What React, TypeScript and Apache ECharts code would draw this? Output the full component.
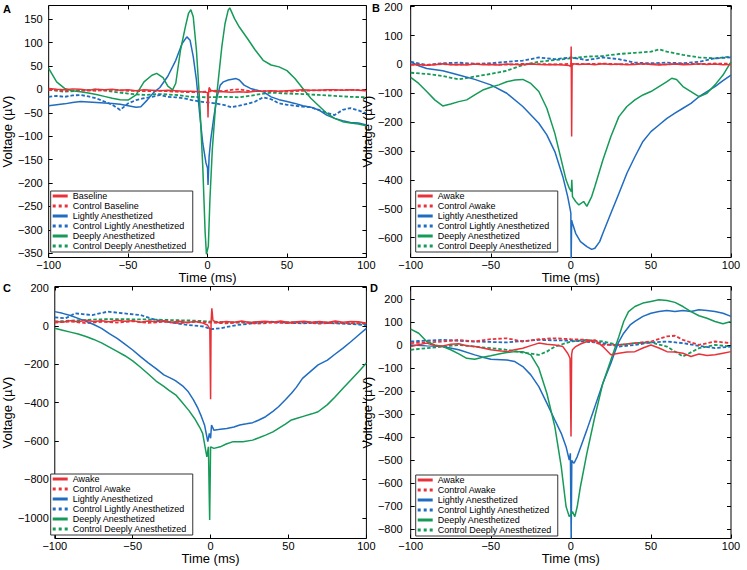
import React, { useEffect, useRef } from 'react';
import * as echarts from 'echarts';

type P = [number, number][];

const FONT = "'Liberation Sans', Arial, Helvetica, sans-serif";
const RED = '#e8323a';
const BLUE = '#1f6cc0';
const GREEN = '#159a57';

const timeTicks = [-100, -50, 0, 50, 100];
const yTicksA = [-350, -300, -250, -200, -150, -100, -50, 0, 50, 100, 150];
const yTicksB = [-600, -500, -400, -300, -200, -100, 0, 100, 200];
const yTicksC = [-1000, -800, -600, -400, -200, 0, 200];
const yTicksD = [-800, -700, -600, -500, -400, -300, -200, -100, 0, 100, 200];

const namesA = ['Baseline', 'Control Baseline', 'Lightly Anesthetized', 'Control Lightly Anesthetized', 'Deeply Anesthetized', 'Control Deeply Anesthetized'];
const namesBCD = ['Awake', 'Control Awake', 'Lightly Anesthetized', 'Control Lightly Anesthetized', 'Deeply Anesthetized', 'Control Deeply Anesthetized'];

// ---------- Panel A ----------
const A_base: P = [[-100,2],[-95,0],[-90,-1],[-85,1],[-80,0],[-75,-2],[-70,0],[-65,-1],[-60,0],[-55,-2],[-50,-1],[-45,-3],[-40,-1],[-35,-2],[-30,-3],[-25,-2],[-20,-3],[-15,-4],[-10,-4],[-5,-5],[-1,-6],[0,-7],[0.3,-60],[0.6,-8],[1,4],[2,-2],[5,-5],[10,-5],[15,-6],[20,-5],[25,-6],[30,-4],[35,-4],[40,-3],[45,-4],[50,-3],[55,-2],[60,-1],[65,-2],[70,-2],[75,-1],[80,-1],[85,-2],[90,-1],[95,-2],[100,-3]];
const A_ctrlBase: P = [[-100,-1],[-90,-3],[-80,-2],[-70,-3],[-60,-1],[-50,-3],[-40,-4],[-30,-3],[-20,-5],[-10,-6],[0,-5],[5,-3],[10,-4],[15,-1],[20,0],[25,-3],[30,-4],[40,-4],[50,-5],[60,-3],[70,-2],[80,-2],[90,-1],[100,-2]];
const A_light: P = [[-100,-35],[-95,-33],[-90,-31],[-85,-28],[-80,-26],[-75,-27],[-70,-28],[-65,-29],[-60,-30],[-55,-32],[-50,-35],[-45,-38],[-42,-37],[-38,-23],[-34,-7],[-30,4],[-25,28],[-20,62],[-16,98],[-13,112],[-11,105],[-9,70],[-7,20],[-5,-51],[-3,-115],[-1,-157],[0,-168],[0.3,-204],[1,-143],[2,-108],[4,-58],[6,-16],[8,9],[10,16],[13,20],[18,23],[20,20],[23,9],[27,2],[30,-1],[35,-5],[40,-16],[45,-22],[50,-26],[55,-30],[60,-35],[65,-38],[70,-44],[75,-55],[80,-62],[85,-67],[90,-71],[95,-72],[100,-76]];
const A_ctrlLight: P = [[-100,-16],[-95,-14],[-90,-16],[-85,-13],[-80,-12],[-75,-15],[-70,-19],[-65,-26],[-60,-33],[-55,-44],[-50,-30],[-45,-23],[-40,-19],[-35,-16],[-30,-12],[-25,-16],[-20,-17],[-15,-19],[-10,-23],[-5,-26],[0,-28],[5,-30],[10,-33],[15,-38],[20,-35],[25,-31],[30,-26],[35,-17],[40,-21],[45,-30],[50,-33],[55,-35],[60,-37],[65,-38],[70,-44],[75,-50],[80,-55],[85,-44],[90,-40],[95,-45],[100,-51]];
const A_deep: P = [[-100,45],[-95,16],[-90,2],[-85,-3],[-80,-5],[-75,-8],[-70,-11],[-65,-15],[-60,-19],[-55,-22],[-50,-23],[-45,-12],[-40,16],[-35,30],[-32,34],[-28,25],[-25,7],[-22,-1],[-20,13],[-17,84],[-14,133],[-12,162],[-10.5,170],[-9,155],[-7,84],[-5,-23],[-3,-165],[-1.5,-306],[-0.7,-352],[0.5,-335],[1.5,-235],[3,-129],[5,-37],[7,27],[9,91],[11,140],[13,169],[14,174],[17,151],[20,133],[25,109],[30,84],[35,62],[40,52],[45,48],[50,40],[55,23],[60,2],[65,-19],[70,-35],[75,-51],[80,-62],[85,-69],[90,-72],[95,-74],[100,-78]];
const A_ctrlDeep: P = [[-100,-1],[-90,-5],[-80,-3],[-70,0],[-60,-5],[-50,-9],[-40,-12],[-30,-10],[-20,-12],[-10,-16],[0,-17],[10,-16],[20,-17],[30,-12],[40,-7],[50,-9],[60,-10],[70,-12],[80,-14],[90,-16],[100,-17]];

// ---------- Panel B ----------
const B_awake: P = [[-100,-2],[-95,0],[-90,-3],[-85,-1],[-80,2],[-75,-1],[-70,0],[-65,-2],[-60,1],[-55,-1],[-50,0],[-45,-2],[-40,1],[-35,0],[-30,-1],[-25,1],[-20,0],[-15,-1],[-10,0],[-5,-2],[-1,-4],[0,-8],[0.2,62],[0.5,-250],[0.8,-5],[1.5,2],[5,0],[10,1],[15,-1],[20,2],[25,0],[30,1],[35,-1],[40,0],[45,2],[50,0],[55,-2],[60,0],[65,1],[70,-1],[75,0],[80,2],[85,0],[90,1],[95,-1],[100,0]];
const B_ctrlAwake: P = [[-100,0],[-90,-2],[-80,1],[-70,-1],[-60,2],[-50,0],[-40,-1],[-30,2],[-20,1],[-10,0],[0,2],[10,1],[20,3],[30,0],[40,2],[50,1],[60,0],[70,2],[80,1],[90,3],[100,2]];
const B_light: P = [[-100,9],[-95,-5],[-90,-14],[-80,-22],[-70,-37],[-60,-52],[-50,-71],[-40,-100],[-30,-146],[-20,-204],[-15,-244],[-10,-302],[-5,-389],[-2,-457],[-0.5,-500],[0,-515],[0.2,-680],[0.5,-540],[1,-550],[3,-585],[6,-614],[10,-631],[13,-641],[15,-637],[18,-614],[20,-585],[25,-516],[30,-447],[35,-377],[40,-320],[45,-267],[50,-233],[55,-210],[60,-187],[65,-169],[70,-152],[75,-135],[80,-112],[85,-94],[90,-77],[95,-56],[100,-37]];
const B_ctrlLight: P = [[-100,9],[-90,-2],[-80,4],[-70,6],[-60,2],[-50,4],[-40,9],[-30,13],[-20,24],[-10,18],[0,24],[10,15],[20,24],[30,18],[40,6],[50,4],[60,6],[70,4],[80,9],[90,21],[100,24]];
const B_deep: P = [[-100,-45],[-95,-66],[-90,-94],[-85,-123],[-80,-144],[-75,-137],[-70,-129],[-65,-123],[-60,-106],[-55,-89],[-50,-79],[-45,-71],[-40,-60],[-35,-54],[-30,-52],[-25,-66],[-20,-94],[-15,-152],[-10,-239],[-6,-331],[-3,-400],[-1,-429],[0.3,-441],[0.6,-400],[1,-458],[3,-475],[5,-487],[8,-475],[10,-492],[13,-458],[15,-423],[20,-331],[25,-250],[30,-181],[35,-146],[40,-123],[45,-106],[50,-94],[55,-77],[60,-60],[63,-48],[66,-52],[70,-77],[75,-94],[80,-112],[85,-100],[90,-71],[95,-37],[100,9]];
const B_ctrlDeep: P = [[-100,-29],[-90,-33],[-80,-40],[-70,-52],[-60,-42],[-50,-33],[-40,-22],[-30,-2],[-20,9],[-10,15],[0,21],[10,27],[20,29],[30,36],[40,40],[50,44],[55,52],[60,44],[70,33],[80,24],[90,21],[100,27]];

// ---------- Panel C ----------
const C_awake: P = [[-100,25],[-95,20],[-90,28],[-85,22],[-80,30],[-75,24],[-70,28],[-65,22],[-60,30],[-55,25],[-50,28],[-45,20],[-40,26],[-35,22],[-30,28],[-25,20],[-20,25],[-15,18],[-10,24],[-5,15],[-2,5],[-0.5,-15],[0,-382],[0.3,20],[0.8,92],[1.5,30],[3,22],[5,18],[10,24],[15,20],[20,26],[25,18],[30,22],[35,25],[40,20],[45,26],[50,18],[55,22],[60,25],[65,20],[70,24],[75,18],[80,26],[85,20],[90,24],[95,22],[100,14]];
const C_ctrlAwake: P = [[-100,18],[-90,24],[-80,15],[-70,22],[-60,18],[-50,25],[-40,16],[-30,22],[-20,15],[-10,22],[0,18],[10,14],[20,20],[30,12],[40,18],[50,15],[60,20],[70,12],[80,18],[90,14],[100,16]];
const C_light: P = [[-100,75],[-95,66],[-90,55],[-85,40],[-80,25],[-75,8],[-70,-12],[-65,-40],[-60,-65],[-55,-95],[-50,-125],[-45,-160],[-40,-192],[-35,-222],[-30,-255],[-25,-274],[-22.6,-285],[-18,-312],[-14.3,-343],[-11,-385],[-8.1,-430],[-6,-470],[-3.9,-516],[-1.8,-603],[-0.8,-560],[0,-585],[0.6,-516],[2.1,-543],[5,-540],[10.4,-534],[15,-527],[18.7,-516],[23,-510],[27,-504],[31,-490],[35.3,-473],[40,-445],[43.6,-421],[48,-385],[51.9,-351],[55,-320],[59,-273],[64,-238],[69,-203],[75,-178],[80,-146],[85,-115],[90,-82],[95,-47],[100,-12]];
const C_ctrlLight: P = [[-100,45],[-93,40],[-87,66],[-76,57],[-66,75],[-56,66],[-45,57],[-35,31],[-24,17],[-14,5],[-4,-3],[0,-17],[6,-12],[17,5],[27,14],[38,23],[48,17],[59,14],[69,17],[80,14],[90,10],[100,5]];
const C_deep: P = [[-100,-12],[-95,-22],[-90,-32],[-85,-42],[-80,-55],[-75,-70],[-70,-88],[-65,-110],[-60,-132],[-55,-155],[-50,-182],[-45,-215],[-40,-250],[-35,-287],[-30,-315],[-26.9,-334],[-22,-362],[-18.6,-395],[-14,-440],[-10.3,-482],[-7,-528],[-5.1,-560],[-2.4,-682],[-1.4,-630],[-0.6,-1012],[0,-630],[2.1,-638],[6.2,-630],[10,-615],[14.5,-603],[20.7,-603],[27,-595],[31,-583],[35.3,-569],[40,-552],[43.6,-534],[48,-512],[51.9,-490],[55,-482],[60,-470],[65,-458],[69,-447],[75,-410],[80,-369],[85,-325],[90,-282],[95,-238],[100,-193]];
const C_ctrlDeep: P = [[-100,23],[-90,28],[-80,32],[-70,35],[-60,36],[-50,35],[-40,34],[-30,32],[-20,30],[-10,28],[0,23],[10,20],[20,18],[30,20],[40,22],[50,20],[60,18],[70,20],[80,17],[90,15],[100,10]];

// ---------- Panel D ----------
const D_awake: P = [[-100,-6],[-95,2],[-90,9],[-85,-2],[-80,-3],[-75,4],[-70,6],[-65,-2],[-60,-6],[-55,-12],[-50,-20],[-45,-24],[-40,-28],[-35,-20],[-30,-13],[-25,-2],[-20,9],[-15,4],[-10,1],[-5,-6],[-2,-35],[-0.5,-57],[0.1,-397],[0.5,-40],[1,-20],[3,-6],[6,5],[10,16],[15,23],[20,-6],[25,-42],[30,-35],[35,-30],[40,-28],[45,-12],[50,1],[55,-12],[60,-28],[65,-30],[70,-35],[75,-49],[80,-38],[85,-45],[90,-42],[95,-35],[100,-28]];
const D_ctrlAwake: P = [[-100,9],[-90,12],[-80,16],[-70,23],[-60,16],[-50,26],[-40,30],[-30,16],[-20,26],[-10,30],[0,26],[10,23],[20,1],[30,1],[40,9],[50,16],[60,38],[65,41],[70,23],[80,1],[90,16],[100,9]];
const D_light: P = [[-100,1],[-90,-3],[-80,-6],[-70,-20],[-60,-42],[-55,-52],[-50,-61],[-40,-64],[-35,-71],[-30,-93],[-25,-129],[-20,-180],[-15,-252],[-10,-325],[-6,-383],[-3,-441],[-1,-499],[-0.3,-470],[0.2,-840],[0.6,-500],[1,-506],[2,-513],[4,-484],[7,-426],[10,-368],[15,-267],[20,-165],[25,-78],[28,-20],[30,16],[33,52],[37,88],[40,103],[45,125],[50,139],[55,146],[60,151],[65,146],[70,151],[75,146],[80,154],[85,151],[90,146],[95,139],[100,125]];
const D_ctrlLight: P = [[-100,16],[-90,20],[-80,23],[-70,19],[-60,16],[-50,14],[-40,12],[-30,18],[-20,23],[-10,21],[0,20],[10,15],[20,9],[30,-6],[40,1],[50,12],[60,16],[70,9],[80,-3],[90,-13],[100,-6]];
const D_deep: P = [[-100,70],[-95,52],[-90,16],[-85,1],[-80,-6],[-75,-20],[-70,-38],[-65,-57],[-60,-61],[-55,-52],[-50,-46],[-45,-38],[-40,-32],[-35,-28],[-30,-28],[-25,-42],[-20,-100],[-15,-209],[-10,-354],[-6,-528],[-3,-701],[-1,-745],[0,-735],[1,-723],[2.5,-745],[4,-701],[6,-614],[10,-470],[15,-310],[20,-165],[25,-64],[30,38],[33,103],[36,146],[40,168],[45,183],[50,190],[55,197],[60,194],[65,186],[70,168],[75,146],[80,128],[85,117],[90,103],[95,93],[100,103]];
const D_ctrlDeep: P = [[-100,-20],[-90,-13],[-80,-6],[-70,1],[-60,-6],[-50,-13],[-40,-20],[-30,-32],[-20,-42],[-15,-28],[-10,-6],[0,16],[10,23],[20,16],[30,1],[40,9],[50,12],[60,-6],[70,-49],[80,-13],[90,1],[100,-6]];

const fmt = (v: number) => (v < 0 ? '\u2212' + Math.abs(v) : String(v));
const ICON_SOLID = 'path://M0,0H15V3H0Z';
const ICON_DASH = 'path://M0,0H3V3H0Z M6,0H9V3H6Z M12,0H15V3H12Z';

export default function App() {
  const ref = useRef<HTMLDivElement>(null);
  useEffect(() => {
    if (!ref.current) return;
    const chart = echarts.init(ref.current, undefined, { renderer: 'svg' });

    const panels = [
      { letter: 'A', lx: 3, ly: 3, names: namesA, data: [A_base, A_ctrlBase, A_light, A_ctrlLight, A_deep, A_ctrlDeep], yMin: -359, yMax: 179, yTicks: yTicksA, grid: { left: 45.7, top: 5.5, width: 320.7, height: 252 }, legend: { left: 50.7, top: 191 }, margin: 6 },
      { letter: 'B', lx: 372, ly: 2, names: namesBCD, data: [B_awake, B_ctrlAwake, B_light, B_ctrlLight, B_deep, B_ctrlDeep], yMin: -669, yMax: 204, yTicks: yTicksB, grid: { left: 410.7, top: 5.5, width: 320.3, height: 252 }, legend: { left: 415.7, top: 191 }, margin: 8 },
      { letter: 'C', lx: 3, ly: 282, names: namesBCD, data: [C_awake, C_ctrlAwake, C_light, C_ctrlLight, C_deep, C_ctrlDeep], yMin: -1108, yMax: 206, yTicks: yTicksC, grid: { left: 45.7, top: 286.5, width: 320.7, height: 252 }, legend: { left: 50.7, top: 474 }, margin: 6 },
      { letter: 'D', lx: 370, ly: 282, names: namesBCD, data: [D_awake, D_ctrlAwake, D_light, D_ctrlLight, D_deep, D_ctrlDeep], yMin: -840, yMax: 255, yTicks: yTicksD, grid: { left: 410.7, top: 286.5, width: 320.3, height: 252 }, legend: { left: 415.7, top: 475 }, margin: 8 },
    ];
    const colors = [RED, RED, BLUE, BLUE, GREEN, GREEN];
    const drawOrder = [5, 3, 1, 2, 4, 0];

    const grid: any[] = [];
    const xAxis: any[] = [];
    const yAxis: any[] = [];
    const series: any[] = [];
    const legend: any[] = [];
    const graphic: any[] = [];

    panels.forEach((p, i) => {
      grid.push({ ...p.grid, show: true, borderColor: '#000', borderWidth: 1, backgroundColor: 'transparent', containLabel: false });
      const tickStyle = { inside: true, length: 4, lineStyle: { color: '#000', width: 1 } };
      xAxis.push({
        type: 'value', gridIndex: i, min: -100, max: 100, interval: 50, position: 'bottom',
        axisLine: { show: false, onZero: false }, axisTick: { ...tickStyle, customValues: timeTicks },
        axisLabel: { customValues: timeTicks, margin: 2, fontSize: 11, color: '#000', fontFamily: FONT, formatter: fmt, showMinLabel: true, showMaxLabel: true },
        splitLine: { show: false },
        name: 'Time (ms)', nameLocation: 'middle', nameGap: 13,
        nameTextStyle: { fontSize: 13, color: '#000', fontFamily: FONT },
      });
      yAxis.push({
        type: 'value', gridIndex: i, min: p.yMin, max: p.yMax, position: 'left',
        axisLine: { show: false, onZero: false }, axisTick: { ...tickStyle, customValues: p.yTicks },
        axisLabel: { customValues: p.yTicks, margin: p.margin, fontSize: 11, color: '#000', fontFamily: FONT, formatter: fmt },
        splitLine: { show: false },
        name: 'Voltage (\u00b5V)', nameLocation: 'middle', nameGap: 32,
        nameTextStyle: { fontSize: 13, color: '#000', fontFamily: FONT },
      });
    });
    panels.forEach((p, i) => {
      xAxis.push({
        type: 'value', gridIndex: i, min: -100, max: 100, interval: 50, position: 'top',
        axisLine: { show: false, onZero: false }, axisTick: { inside: true, length: 4, lineStyle: { color: '#000' }, customValues: timeTicks },
        axisLabel: { show: false }, splitLine: { show: false },
      });
      yAxis.push({
        type: 'value', gridIndex: i, min: p.yMin, max: p.yMax, position: 'right',
        axisLine: { show: false, onZero: false }, axisTick: { inside: true, length: 4, lineStyle: { color: '#000' }, customValues: p.yTicks },
        axisLabel: { show: false }, splitLine: { show: false },
      });
    });

    panels.forEach((p, i) => {
      drawOrder.forEach((k) => {
        series.push({
          type: 'line', name: p.names[k], data: p.data[k], xAxisIndex: i, yAxisIndex: i,
          showSymbol: false, symbol: 'none', silent: true, clip: true,
          lineStyle: { color: colors[k], width: k % 2 ? 1.8 : 1.5, type: k % 2 ? [3.5, 2] : 'solid' },
          itemStyle: { color: colors[k] },
        });
      });
      legend.push({
        orient: 'vertical', left: p.legend.left, top: p.legend.top,
        data: p.names.map((n, k) => ({ name: n, icon: k % 2 ? ICON_DASH : ICON_SOLID, itemStyle: { color: colors[k] } })),
        selectedMode: false, itemWidth: 15, itemHeight: 10, itemGap: 0, symbolKeepAspect: true,
        padding: [0, 6, 1, 2], borderColor: '#333', borderWidth: 1, backgroundColor: '#fff',
        textStyle: { fontSize: 9, color: '#000', fontFamily: FONT, lineHeight: 10 },
        z: 10,
      });
      graphic.push({
        type: 'text', left: p.lx, top: p.ly,
        style: { text: p.letter, fontSize: 11, fontWeight: 'bold', fill: '#000', fontFamily: FONT },
      });
    });

    chart.setOption({ animation: false, backgroundColor: '#fff', grid, xAxis, yAxis, series, legend, graphic });
    return () => chart.dispose();
  }, []);
  return <div ref={ref} style={{ position: 'fixed', left: 0, top: 0, width: 747, height: 570, background: '#fff' }} />;
}
